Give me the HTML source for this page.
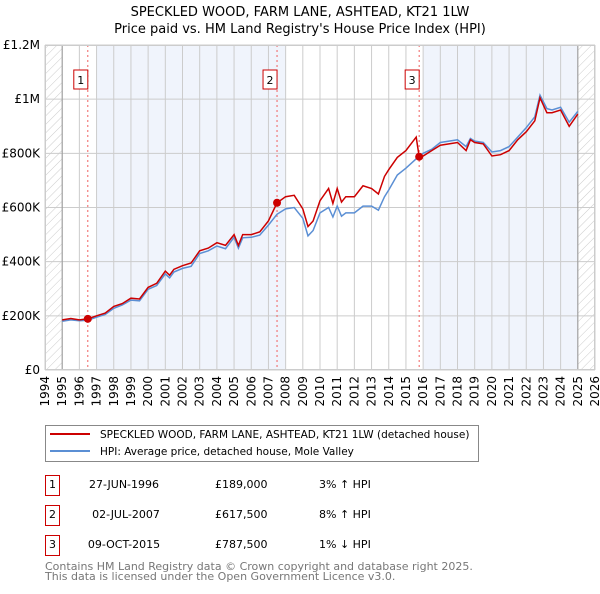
<!DOCTYPE html>
<html><head><meta charset="utf-8"><style>
body{margin:0;width:600px;height:590px;background:#fff;font-family:"DejaVu Sans","Liberation Sans",sans-serif;overflow:hidden}
svg text{font-family:"DejaVu Sans","Liberation Sans",sans-serif}
</style></head><body>
<svg id="c" width="600" height="590">
<defs><pattern id="hatch" width="6" height="6" patternUnits="userSpaceOnUse" patternTransform="rotate(45)"><line x1="0" y1="0" x2="0" y2="6" stroke="#ccc" stroke-width="1"/></pattern></defs>
<text x="300" y="16" text-anchor="middle" font-size="13">SPECKLED WOOD, FARM LANE, ASHTEAD, KT21 1LW</text>
<text x="300" y="33" text-anchor="middle" font-size="13">Price paid vs. HM Land Registry's House Price Index (HPI)</text>
<g id="plot"></g>
<g>
<rect x="45.5" y="425.5" width="433" height="36" fill="#fff" stroke="#888"/>
<line x1="50" y1="434" x2="90" y2="434" stroke="#cc0000" stroke-width="2"/>
<text x="100" y="438" font-size="10.5">SPECKLED WOOD, FARM LANE, ASHTEAD, KT21 1LW (detached house)</text>
<line x1="50" y1="451" x2="90" y2="451" stroke="#5b8fd4" stroke-width="2"/>
<text x="100" y="455" font-size="10.5">HPI: Average price, detached house, Mole Valley</text>
</g>
<g font-size="11">
<rect x="45.5" y="475.5" width="14" height="20" fill="#fff" stroke="#cc0000"/><text x="52.5" y="488" text-anchor="middle">1</text>
<text x="124" y="488" text-anchor="middle">27-JUN-1996</text><text x="215" y="488">£189,000</text><text x="319" y="488">3% ↑ HPI</text>
<rect x="45.5" y="505.5" width="14" height="20" fill="#fff" stroke="#cc0000"/><text x="52.5" y="518" text-anchor="middle">2</text>
<text x="126" y="518" text-anchor="middle">02-JUL-2007</text><text x="215" y="518">£617,500</text><text x="319" y="518">8% ↑ HPI</text>
<rect x="45.5" y="535.5" width="14" height="20" fill="#fff" stroke="#cc0000"/><text x="52.5" y="548" text-anchor="middle">3</text>
<text x="124" y="548" text-anchor="middle">09-OCT-2015</text><text x="215" y="548">£787,500</text><text x="319" y="548">1% ↓ HPI</text>
</g>
<text x="45" y="570" font-size="11" fill="#777">Contains HM Land Registry data © Crown copyright and database right 2025.</text>
<text x="45" y="580" font-size="11" fill="#777">This data is licensed under the Open Government Licence v3.0.</text>
</svg>
<script>
const years=[1994,1995,1996,1997,1998,1999,2000,2001,2002,2003,2004,2005,2006,2007,2008,2009,2010,2011,2012,2013,2014,2015,2016,2017,2018,2019,2020,2021,2022,2023,2024,2025,2026];
const yTicks=[0,200000,400000,600000,800000,1000000,1200000];
const yLabels=["£0","£200K","£400K","£600K","£800K","£1M","£1.2M"];
const tPts=[1995,1995.5,1996,1996.49,1997,1997.5,1998,1998.5,1999,1999.5,2000,2000.5,2001,2001.25,2001.5,2002,2002.5,2003,2003.5,2004,2004.5,2005,2005.25,2005.5,2006,2006.5,2007,2007.5,2008,2008.5,2009,2009.3,2009.6,2010,2010.5,2010.75,2011,2011.25,2011.5,2012,2012.5,2013,2013.4,2013.75,2014,2014.5,2015,2015.6,2015.77,2016,2016.5,2017,2017.5,2018,2018.5,2018.75,2019,2019.5,2020,2020.5,2021,2021.5,2022,2022.5,2022.8,2023.2,2023.5,2024,2024.5,2025];
const redVals=[185,190,185,189,200,210,235,245,265,262,305,320,365,350,372,385,395,440,450,470,460,500,460,500,500,510,550,617,640,645,595,530,550,625,670,615,670,620,640,640,680,670,650,715,740,785,810,860,787,790,810,830,835,840,810,850,840,835,790,795,810,850,880,920,1005,950,950,960,900,945];
const hpiVals=[180,185,182,184,195,205,228,240,258,255,298,312,355,340,362,375,383,430,440,458,448,490,450,488,490,498,535,575,595,600,560,495,515,580,600,565,605,568,580,580,605,605,590,640,665,720,745,780,790,800,815,840,845,850,825,855,845,840,805,810,825,860,895,935,1015,965,960,970,915,955];
const sales=[[1996.49,189000],[2007.5,617500],[2015.77,787500]];
const L=45,R=595,T=45,B=370;
const xs=y=>L+(y-1994)/32*(R-L);
const ys=v=>B-v/1200000*(B-T);
const NS="http://www.w3.org/2000/svg";
const g=document.getElementById('plot');
function mk(t,a,p){const e=document.createElementNS(NS,t);for(const k in a)e.setAttribute(k,a[k]);(p||g).appendChild(e);return e;}
let e;
e=mk('rect',{x:L,y:T,width:R-L,height:B-T,fill:'#fff'});


e=mk('rect',{x:xs(1997),y:T,width:xs(2008)-xs(1997),height:B-T,fill:'#f0f4fc'});


e=mk('rect',{x:xs(2016),y:T,width:xs(2025)-xs(2016),height:B-T,fill:'#f0f4fc'});


e=mk('rect',{x:L,y:T,width:xs(1995)-L,height:B-T,fill:'url(#hatch)'});


e=mk('rect',{x:xs(2025),y:T,width:R-xs(2025),height:B-T,fill:'url(#hatch)'});


years.forEach(y=>{
 e=mk('line',{x1:xs(y),x2:xs(y),y1:T,y2:B,stroke:'#ccc','stroke-width':1});
 
 
 e=mk('text',{transform:`translate(${xs(y)+4},${B+6}) rotate(-90)`,'text-anchor':'end','font-size':12});
 e.textContent=y;
 
 
});
yTicks.forEach((v,i)=>{
 e=mk('line',{x1:L,x2:R,y1:ys(v),y2:ys(v),stroke:'#ccc','stroke-width':1});
 
 
 e=mk('text',{x:L-5,y:ys(v)+4,'text-anchor':'end','font-size':12});
 e.textContent=yLabels[i];
 
 
});
e=mk('line',{x1:xs(1995),x2:xs(1995),y1:T,y2:B,stroke:'#999'});


e=mk('line',{x1:xs(2025),x2:xs(2025),y1:T,y2:B,stroke:'#999'});


sales.forEach((s,i)=>{
 e=mk('line',{x1:xs(s[0]),x2:xs(s[0]),y1:T,y2:B,stroke:'#f06060','stroke-dasharray':'2,3'});
 
 
 e=mk('rect',{x:xs(s[0])-14,y:70,width:14,height:19,fill:'#fff',stroke:'#cc0000'});
 
 
 e=mk('text',{x:xs(s[0])-7,y:84,'text-anchor':'middle','font-size':11});
 e.textContent=String(i+1);
 
 
});
const path=vals=>tPts.map((t,i)=>(i?'L':'M')+xs(t).toFixed(1)+','+ys(vals[i]*1000).toFixed(1)).join('');
e=mk('path',{d:path(hpiVals),fill:'none',stroke:'#5b8fd4','stroke-width':1.5});


e=mk('path',{d:path(redVals),fill:'none',stroke:'#cc0000','stroke-width':1.5});


sales.forEach(s=>{
 e=mk('circle',{cx:xs(s[0]),cy:ys(s[1]),r:4,fill:'#cc0000'});
 
 
});
e=mk('rect',{x:L+.5,y:T+.5,width:R-L-1,height:B-T-1,fill:'none',stroke:'#ccc'});


</script>
</body></html>
